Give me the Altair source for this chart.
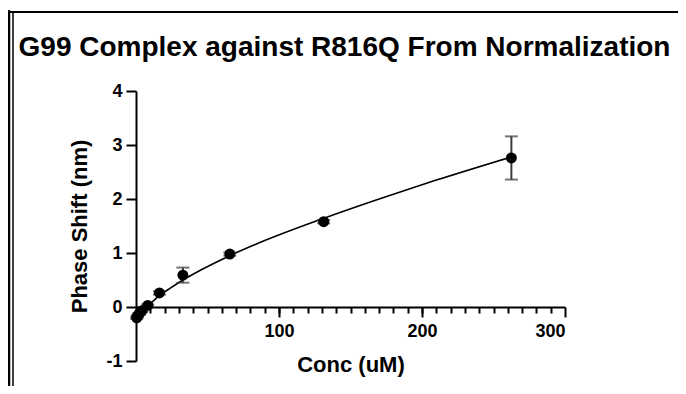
import altair as alt
import pandas as pd

# measured data (concentration in uM, phase shift in nm, error bar half-width)
conc = [262.5, 131.25, 65.6, 32.8, 16.4, 8.2, 4.1, 2.05, 1.03, 0.51]
shift = [2.76, 1.58, 0.98, 0.59, 0.26, 0.03, -0.07, -0.13, -0.17, -0.20]
err = [0.40, 0.03, 0.03, 0.14, 0.03, 0.02, 0.02, 0.02, 0.02, 0.02]

# fitted curve
fit_conc = [0, 4, 8.2, 12, 16.4, 24, 32.8, 45, 65.6, 90, 131, 170, 210, 262.5]
fit_shift = [-0.22, -0.10, 0.02, 0.11, 0.21, 0.35, 0.50, 0.68, 0.95, 1.23, 1.64, 2.00, 2.35, 2.78]

x_major_vals = [100, 200, 300]
x_minor_vals = list(range(10, 300, 10))
y_vals = [-1, 0, 1, 2, 3, 4]

pts = pd.DataFrame({
    "conc": conc,
    "shift": shift,
    "lo": [s - e for s, e in zip(shift, err)],
    "hi": [s + e for s, e in zip(shift, err)],
})
fit = pd.DataFrame({"conc": fit_conc, "shift": fit_shift})
one = pd.DataFrame({"a": [0]})

W, H = 429, 270
FONT = "Liberation Sans"
XOFF = -54  # x axis sits at y = 0

xscale = alt.Scale(domain=[0, 300], nice=False, zero=False)
yscale = alt.Scale(domain=[-1, 4], nice=False, zero=False)

y_axis = alt.Axis(
    values=y_vals, tickSize=10, tickWidth=2, tickColor="black",
    domainWidth=2, domainColor="black", grid=False,
    labelFont=FONT, labelFontSize=18, labelFontWeight="bold", labelColor="black",
    labelPadding=4, labelExpr="'' + datum.value",
    title="Phase Shift (nm)", titleFont=FONT, titleFontSize=22,
    titleFontWeight="bold", titleColor="black", titlePadding=14,
)
x_major = alt.Axis(
    values=x_major_vals, tickSize=10, tickWidth=2, tickColor="black",
    domainWidth=2, domainColor="black", grid=False, orient="bottom", offset=XOFF,
    labelFont=FONT, labelFontSize=18, labelFontWeight="bold", labelColor="black",
    labelPadding=5,
    title="Conc (uM)", titleFont=FONT, titleFontSize=22,
    titleFontWeight="bold", titleColor="black", titlePadding=14,
)
x_minor = alt.Axis(
    values=x_minor_vals, tickSize=6, tickWidth=2, tickColor="black",
    domain=False, labels=False, grid=False, orient="bottom", offset=XOFF, title=None,
)

curve = alt.Chart(fit).mark_line(color="black", strokeWidth=1.6, interpolate="monotone").encode(
    x=alt.X("conc:Q", scale=xscale, axis=x_minor),
    y=alt.Y("shift:Q", scale=yscale, axis=y_axis),
)
bars = alt.Chart(pts).mark_rule(color="#3a3a3a", strokeWidth=2).encode(
    x=alt.X("conc:Q", scale=xscale, axis=None),
    y=alt.Y("lo:Q", scale=yscale, axis=y_axis),
    y2="hi:Q",
)
caps_hi = alt.Chart(pts).mark_tick(color="#3a3a3a", orient="horizontal", size=13, thickness=2).encode(
    x=alt.X("conc:Q", scale=xscale, axis=None),
    y=alt.Y("hi:Q", scale=yscale, axis=y_axis),
)
caps_lo = alt.Chart(pts).mark_tick(color="#3a3a3a", orient="horizontal", size=13, thickness=2).encode(
    x=alt.X("conc:Q", scale=xscale, axis=None),
    y=alt.Y("lo:Q", scale=yscale, axis=y_axis),
)
points = alt.Chart(pts).mark_circle(color="black", opacity=1, size=120).encode(
    x=alt.X("conc:Q", scale=xscale, axis=x_major),
    y=alt.Y("shift:Q", scale=yscale, axis=y_axis),
)

# frame lines of the original figure
top_line = alt.Chart(one).mark_rule(color="black", strokeWidth=2).encode(
    x=alt.value(-130), x2=alt.value(545), y=alt.value(-79),
)
left_outer = alt.Chart(one).mark_rule(color="black", strokeWidth=2.5).encode(
    x=alt.value(-127), y=alt.value(-81), y2=alt.value(300),
)
left_inner = alt.Chart(one).mark_rule(color="black", strokeWidth=1.5).encode(
    x=alt.value(-123), y=alt.value(-79), y2=alt.value(300),
)

chart = alt.layer(
    curve, bars, caps_hi, caps_lo, points, top_line, left_outer, left_inner
).resolve_axis(x="independent").properties(
    width=W, height=H,
    autosize=alt.AutoSizeParams(type="none"),
    padding={"left": 128, "top": 83, "right": 113, "bottom": 25},
    title=alt.TitleParams(
        "G99 Complex against R816Q From Normalization",
        font=FONT, fontSize=28, fontWeight="bold", color="black",
        anchor="middle", frame="group", baseline="alphabetic", offset=-48, dx=-6, dy=27,
    ),
).configure_view(stroke=None)

chart.save("out.html", embed_options={"renderer": "svg", "actions": False})
